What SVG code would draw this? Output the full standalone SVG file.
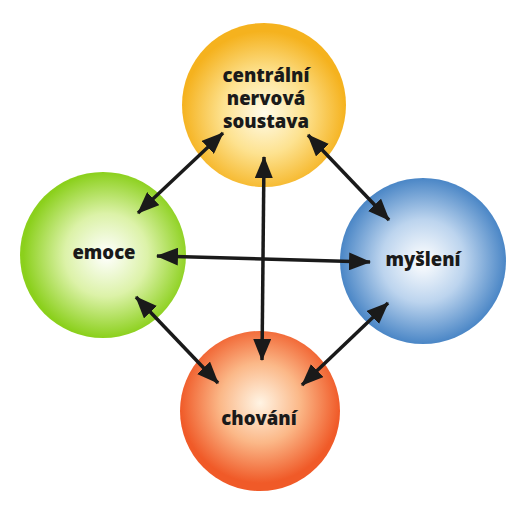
<svg xmlns="http://www.w3.org/2000/svg" width="521" height="511" viewBox="0 0 521 511">
<defs>
<radialGradient id="gy" cx="50%" cy="55%" r="50%">
<stop offset="0" stop-color="#fffbea"/><stop offset="0.5" stop-color="#fde290"/><stop offset="1" stop-color="#f5b21e"/>
</radialGradient>
<radialGradient id="gg" cx="52%" cy="50%" r="50%">
<stop offset="0" stop-color="#ffffff"/><stop offset="0.5" stop-color="#dcf2a8"/><stop offset="1" stop-color="#8bd01c"/>
</radialGradient>
<radialGradient id="gb" cx="50%" cy="50%" r="50%">
<stop offset="0" stop-color="#ffffff"/><stop offset="0.5" stop-color="#bcd4ee"/><stop offset="1" stop-color="#4a86c6"/>
</radialGradient>
<radialGradient id="gr" cx="50%" cy="45%" r="50%">
<stop offset="0" stop-color="#fff4e4"/><stop offset="0.5" stop-color="#fbb888"/><stop offset="1" stop-color="#f05a28"/>
</radialGradient>
<marker id="ah" markerUnits="userSpaceOnUse" markerWidth="22" markerHeight="18" refX="21" refY="9" orient="auto-start-reverse" viewBox="0 0 22 18">
<path d="M0,0 L22,9 L0,18 z" fill="#1a1a1a"/>
</marker>
</defs>
<style>
.lbl{font-family:"Open Sans","Liberation Sans",sans-serif;font-weight:800;font-size:18.5px;fill:#1a1a1a;text-anchor:middle}
.c{stroke:#1a1a1a;stroke-width:3.5;fill:none;marker-start:url(#ah);marker-end:url(#ah)}
</style>
<rect width="521" height="511" fill="#ffffff"/>
<g id="cns">
<circle cx="264" cy="105" r="82" fill="url(#gy)"/>
<text class="lbl" x="266" y="82">centrální</text>
<text class="lbl" x="266" y="105">nervová</text>
<text class="lbl" x="266" y="128">soustava</text>
</g>
<g id="emoce">
<circle cx="103" cy="255" r="83" fill="url(#gg)"/>
<text class="lbl" x="104" y="259">emoce</text>
</g>
<g id="mysleni">
<circle cx="423" cy="261" r="83" fill="url(#gb)"/>
<text class="lbl" x="423" y="266">myšlení</text>
</g>
<g id="chovani">
<circle cx="260" cy="411" r="80" fill="url(#gr)"/>
<text class="lbl" x="259" y="425">chování</text>
</g>
<g id="connectors">
<line class="c" x1="138" y1="213" x2="223" y2="133"/>
<line class="c" x1="308" y1="135" x2="389" y2="220"/>
<line class="c" x1="264" y1="157" x2="262" y2="360"/>
<line class="c" x1="157" y1="256" x2="370" y2="262"/>
<line class="c" x1="136" y1="297" x2="218" y2="383"/>
<line class="c" x1="388" y1="303" x2="302" y2="385"/>
</g>
</svg>
